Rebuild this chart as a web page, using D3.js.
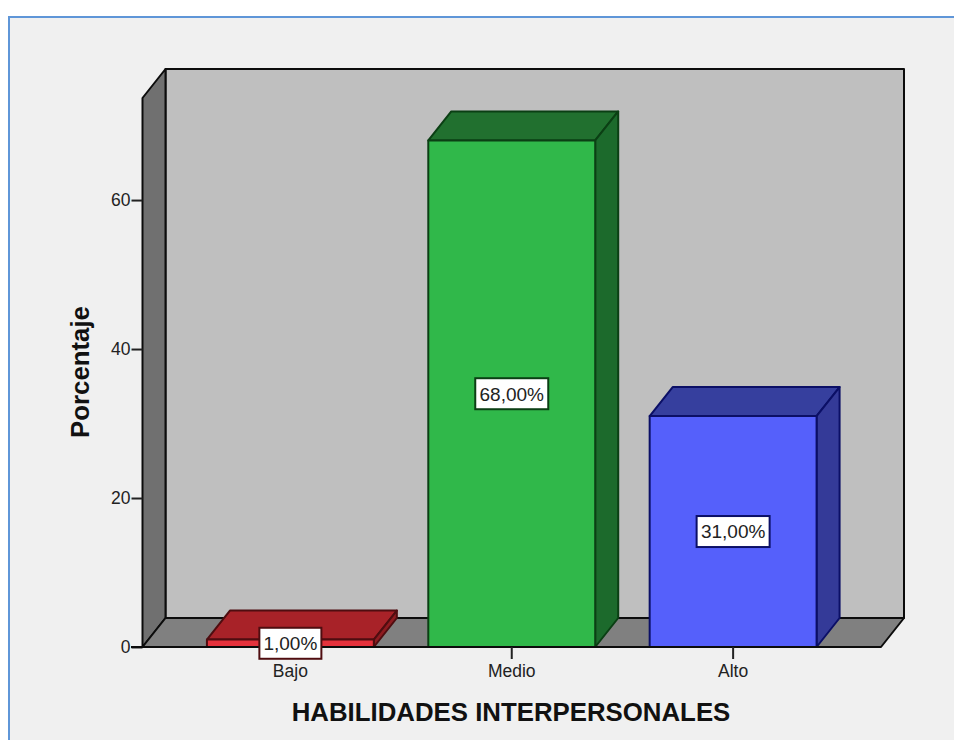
<!DOCTYPE html>
<html><head><meta charset="utf-8">
<script src="https://cdn.jsdelivr.net/npm/d3@7"></script>
<style>html,body{margin:0;padding:0;background:#fff}svg{display:block}text{font-family:"Liberation Sans",Arial,sans-serif}</style>
</head><body><svg id="c" width="954" height="740"></svg>
<script>
const categories = ["Bajo","Medio","Alto"];
const values = [1,68,31];
const valueLabels = ["1,00%","68,00%","31,00%"];
const yTicks = [0,20,40,60];
const frontColors = ["#e5323c","#30b84a","#5560fb"];
const topColors = ["#a82228","#21702f","#363f9e"];
const sideColors = ["#8e1b20","#1c6a2c","#343a98"];
const edgeColors = ["#4f0d10","#0b3f14","#0b0f66"];
const yTitle = "Porcentaje";
const xTitle = "HABILIDADES INTERPERSONALES";
const yMax = 73.7;

const svg = d3.select("#c");
const x0=142.5,x1=881,y0=647,yTop=98,dx=23,dy=-29;
const x = d3.scaleBand().domain(categories).range([x0,x1]).paddingInner(0.246).paddingOuter(0.291);
const y = d3.scaleLinear().domain([0,yMax]).range([y0,yTop]);
const poly = pts => "M"+pts.map(p=>p.join(",")).join("L")+"Z";

svg.append("rect").attr("x",9).attr("y",17).attr("width",960).attr("height",740)
  .attr("fill","#f0f0f0").attr("stroke","#5f96d8").attr("stroke-width",2);

const chart = svg.append("g").attr("stroke","#0c0c0c").attr("stroke-width",2).attr("stroke-linejoin","round");
chart.append("path").attr("fill","#bfbfbf").attr("d",poly([[x0+dx,yTop+dy],[x1+dx,yTop+dy],[x1+dx,y0+dy],[x0+dx,y0+dy]]));
chart.append("path").attr("fill","#707070").attr("d",poly([[x0,yTop],[x0+dx,yTop+dy],[x0+dx,y0+dy],[x0,y0]]));
chart.append("path").attr("fill","#808080").attr("d",poly([[x0,y0],[x0+dx,y0+dy],[x1+dx,y0+dy],[x1,y0]]));

const bars = svg.append("g").selectAll("g").data(categories).join("g")
  .attr("stroke",(d,i)=>edgeColors[i]).attr("stroke-width",2).attr("stroke-linejoin","round");
bars.append("path").attr("fill",(d,i)=>topColors[i]).attr("d",(d,i)=>{
  const l=x(d),r=l+x.bandwidth(),t=y(values[i]);
  return poly([[l,t],[l+dx,t+dy],[r+dx,t+dy],[r,t]]);});
bars.append("path").attr("fill",(d,i)=>sideColors[i]).attr("d",(d,i)=>{
  const r=x(d)+x.bandwidth(),t=y(values[i]);
  return poly([[r,t],[r+dx,t+dy],[r+dx,y0+dy],[r,y0]]);});
bars.append("path").attr("fill",(d,i)=>frontColors[i]).attr("d",(d,i)=>{
  const l=x(d),r=l+x.bandwidth(),t=y(values[i]);
  return poly([[l,t],[r,t],[r,y0],[l,y0]]);});

const axisFont = 17.5;
const labelFont = 19;
const yAxis = svg.append("g").attr("transform",`translate(${x0},0)`)
  .call(d3.axisLeft(y).tickValues(yTicks).tickSize(11).tickPadding(1).tickFormat(d3.format("d")));
yAxis.select(".domain").remove();
const xAxis = svg.append("g").attr("transform",`translate(0,${y0})`)
  .call(d3.axisBottom(x).tickSize(12).tickPadding(6));
xAxis.select(".domain").attr("d",`M131,0H${x1}`);
svg.selectAll(".tick line").attr("stroke","#222").attr("stroke-width",2);
svg.selectAll(".domain").attr("stroke","#0c0c0c").attr("stroke-width",2);
svg.selectAll(".tick text").attr("fill","#222").style("font-size",axisFont+"px").style("font-family",'"Liberation Sans",Arial,sans-serif');

const labels = svg.append("g").selectAll("g").data(categories).join("g")
  .attr("transform",(d,i)=>`translate(${x(d)+x.bandwidth()/2},${y(values[i]/2)})`);
labels.append("rect").attr("x",(d,i)=>i===0?-31:-36.5).attr("y",-15.5)
  .attr("width",(d,i)=>i===0?62:73).attr("height",31)
  .attr("fill","#fff").attr("stroke",(d,i)=>edgeColors[i]).attr("stroke-width",2);
labels.append("text").attr("text-anchor","middle").attr("dy","0.36em").attr("fill","#222")
  .style("font-size",labelFont+"px").text((d,i)=>valueLabels[i]);

svg.append("text").attr("x",511).attr("y",721).attr("text-anchor","middle")
  .attr("font-weight","bold").attr("fill","#111").style("font-size","25.8px").text(xTitle);
svg.append("text").attr("transform","translate(89,372) rotate(-90)").attr("text-anchor","middle")
  .attr("font-weight","bold").attr("fill","#111").style("font-size","25.8px").text(yTitle);
</script></body></html>
